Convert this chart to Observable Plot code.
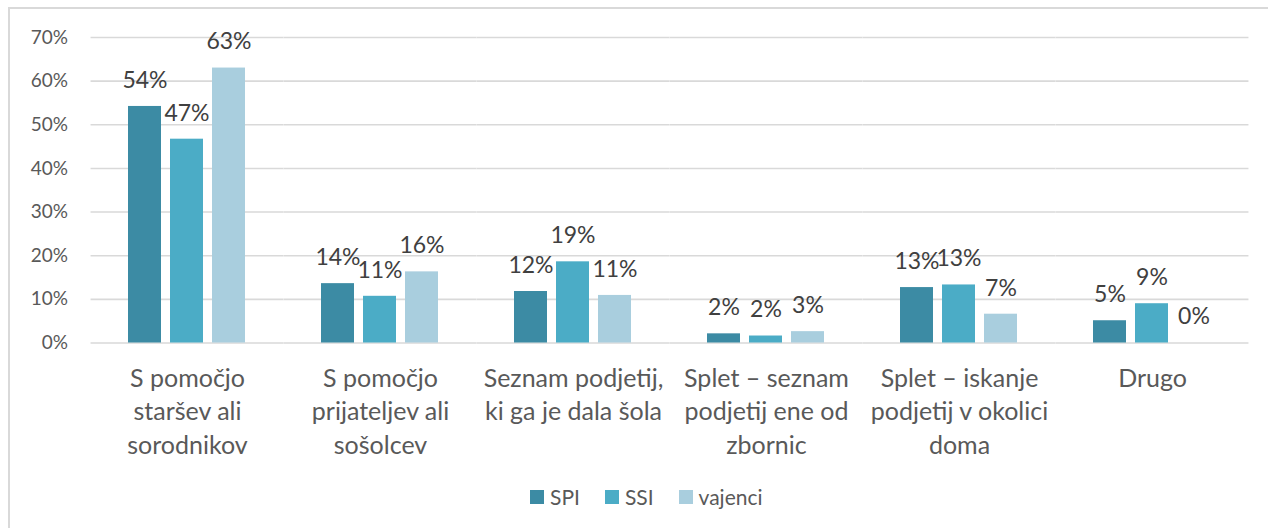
<!DOCTYPE html>
<html>
<head>
<meta charset="utf-8">
<script src="https://cdn.jsdelivr.net/npm/d3@7"></script>
<script src="https://cdn.jsdelivr.net/npm/@observablehq/plot@0.6"></script>
<style>
  html, body { margin: 0; padding: 0; background: #fff; }
  body { width: 1268px; height: 528px; position: relative; overflow: hidden; font-family: Lato, "Open Sans", sans-serif; }
  #frame { position: absolute; left: 8px; top: 7px; width: 1300px; height: 600px; border-left: 2px solid #d9d9d9; border-top: 2px solid #d9d9d9; box-sizing: border-box; }
  #chart { position: absolute; left: 0; top: 0; }
  #legend { position: absolute; left: 530px; top: 484px; display: flex; align-items: center; font-size: 21px; color: #595959; }
  #legend .item { display: flex; align-items: center; margin-right: 25px; }
  #legend .sw { width: 14px; height: 14px; margin-right: 6px; }
</style>
</head>
<body>
<div id="frame"></div>
<div id="chart"></div>
<div id="legend"></div>
<script>
const categories = [
  "S pomočjo staršev ali sorodnikov",
  "S pomočjo prijateljev ali sošolcev",
  "Seznam podjetij, ki ga je dala šola",
  "Splet – seznam podjetij ene od zbornic",
  "Splet – iskanje podjetij v okolici doma",
  "Drugo"
];
const categoryLabels = [
  "S pomočjo\nstaršev ali\nsorodnikov",
  "S pomočjo\nprijateljev ali\nsošolcev",
  "Seznam podjetij,\nki ga je dala šola",
  "Splet – seznam\npodjetij ene od\nzbornic",
  "Splet – iskanje\npodjetij v okolici\ndoma",
  "Drugo"
];
const series = ["SPI", "SSI", "vajenci"];
const spi = [54.2, 13.6, 11.8, 2.1, 12.7, 5.1];
const ssi = [46.7, 10.7, 18.6, 1.6, 13.3, 9.0];
const vajenci = [63.0, 16.3, 10.9, 2.6, 6.6, 0];
const yTicks = [0, 10, 20, 30, 40, 50, 60, 70];
const colors = ["#3C8BA4", "#4BACC6", "#A9CEDE"];

const seriesValues = [spi, ssi, vajenci];
const data = [];
categories.forEach((c, i) => {
  series.forEach((s, j) => {
    data.push({category: c, series: s, value: seriesValues[j][i]});
  });
});

const W = 1268, ML = 90, MR = 19;
const fxPadInner = 0.3877;
const step = (W - ML - MR) / categories.length;
const half = step * fxPadInner / 2;

const chart = Plot.plot({
  width: W,
  height: 470,
  marginLeft: ML,
  marginRight: MR,
  marginTop: 37,
  marginBottom: 127.5,
  style: {fontFamily: "Lato, 'Open Sans', sans-serif", background: "transparent"},
  fx: {domain: categories, paddingInner: fxPadInner, paddingOuter: fxPadInner / 2, axis: null, label: null},
  x: {domain: series, paddingInner: 0.21, paddingOuter: 0, axis: null},
  y: {domain: [0, 70], axis: null},
  color: {domain: series, range: colors},
  marks: [
    Plot.ruleY(yTicks, {stroke: "#d9d9d9", strokeWidth: 1.6, insetLeft: -half, insetRight: -half}),
    Plot.axisY(yTicks, {anchor: "left", tickSize: 0, tickPadding: 23 + half, tickFormat: d => d + "%", fontSize: 19, fill: "#595959", label: null}),
    Plot.barY(data, {fx: "category", x: "series", y: "value", fill: "series"}),
    Plot.text(data, {fx: "category", x: "series", y: "value", text: d => Math.round(d.value) + "%", dy: -26, fontSize: 23, fill: "#404040"}),
    Plot.axisFx({anchor: "bottom", tickSize: 0, tickPadding: 20, tickFormat: d => categoryLabels[categories.indexOf(d)], fontSize: 25, lineHeight: 1.34, fill: "#595959", label: null})
  ]
});
document.getElementById("chart").appendChild(chart);

const legend = document.getElementById("legend");
series.forEach((s, i) => {
  const item = document.createElement("div");
  item.className = "item";
  const sw = document.createElement("div");
  sw.className = "sw";
  sw.style.background = colors[i];
  const lab = document.createElement("span");
  lab.textContent = s;
  item.appendChild(sw);
  item.appendChild(lab);
  legend.appendChild(item);
});
</script>
</body>
</html>
